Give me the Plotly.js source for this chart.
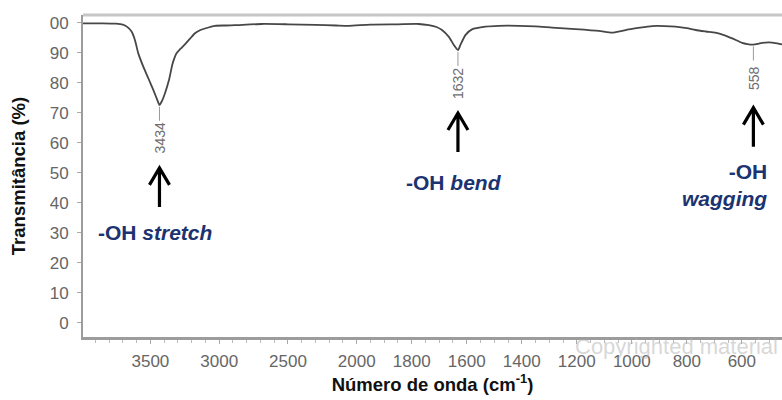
<!DOCTYPE html>
<html>
<head>
<meta charset="utf-8">
<script src="https://cdn.plot.ly/plotly-3.0.1.min.js"></script>
<style>
  html, body { margin: 0; padding: 0; background: #fff; overflow: hidden; }
  #chart { width: 782px; height: 400px; }
</style>
</head>
<body>
<div id="chart"></div>
<script>
// FTIR spectrum: wavenumber (cm-1) and transmittance (%)
const wavenumber = [
  4000, 3850, 3750, 3700, 3685, 3660, 3636, 3612, 3588, 3551, 3515, 3479, 3450, 3434,
  3415, 3394, 3365, 3341, 3325, 3309, 3290, 3270, 3249, 3210, 3176, 3140, 3103, 3031, 2950,
  2885, 2691, 2500, 2300, 2150, 2058, 1950, 1850, 1775, 1738, 1710, 1690, 1665, 1647,
  1632, 1623, 1605, 1581, 1532, 1484, 1411, 1350, 1290, 1205, 1120, 1072, 1040, 1011,
  970, 926, 880, 841, 800, 768, 730, 696, 665, 635, 599, 580, 558, 540, 526, 490, 470,
  459, 440
];
const transmittance = [
  99.8, 99.8, 99.7, 99.4, 99.1, 98.3, 97.0, 94.2, 89.8, 85.3, 81.5, 77.6, 74.3, 72.6,
  74.0, 76.5, 80.9, 86.0, 88.3, 89.9, 90.9, 91.8, 92.8, 94.8, 96.5, 97.5, 98.1, 99.0, 99.1,
  99.2, 99.6, 99.5, 99.3, 99.1, 99.0, 99.4, 99.5, 99.6, 99.2, 98.6, 97.6, 95.3, 92.6,
  90.9, 92.6, 95.9, 97.8, 98.7, 99.0, 99.0, 98.8, 98.4, 97.9, 97.3, 96.7, 97.2, 97.8,
  98.4, 98.9, 98.9, 98.7, 98.2, 97.6, 97.1, 96.7, 95.9, 94.8, 93.3, 92.9, 92.7, 93.0,
  93.3, 93.4, 93.1, 92.9, 92.6
];

// Assigned bands
const peakPositions = [3434, 1632, 558];
const peakMinima = [72.6, 90.9, 92.7];
const peakBands = ['-OH <i>stretch</i>', '-OH <i>bend</i>', '-OH<br><i>wagging</i>'];

// Axis ticks
const xTickValues = [3500, 3000, 2500, 2000, 1800, 1600, 1400, 1200, 1000, 800, 600];
const yTickValues = [0, 10, 20, 30, 40, 50, 60, 70, 80, 90, 100];
const yTickLabels = ['0', '10', '20', '30', '40', '50', '60', '70', '80', '90', '00'];

// Instrument scale: 4000-2000 cm-1 compressed, below 2000 cm-1 expanded 2x
function axisPos(w) {
  return w >= 2000 ? 4000 - w : 2000 + (2000 - w) * 2;
}

const FONT = 'Liberation Sans, Arial, sans-serif';
const NAVY = '#1b3370';

const trace = {
  x: wavenumber.map(axisPos),
  y: transmittance,
  type: 'scatter',
  mode: 'lines',
  line: { color: '#474747', width: 1.8, shape: 'spline', smoothing: 0.6 },
  hoverinfo: 'skip'
};

const shapes = [
  // top frame line
  { type: 'line', xref: 'paper', yref: 'paper', x0: 0, x1: 1, y0: 1, y1: 1,
    line: { color: '#c6c6c6', width: 3 } }
];
const annotations = [];

// band label placement (transmittance units)
const bandLabelY = [30.2, 46.9, 45.9];
const bandShift = [-4, -4, 16];
const bandAnchor = ['center', 'center', 'right'];

peakPositions.forEach((p, i) => {
  const xp = axisPos(p);
  const m = peakMinima[i];
  // leader tick under the minimum
  shapes.push({ type: 'line', xref: 'x', yref: 'y', x0: xp, x1: xp, y0: m - 0.6, y1: m - 5.3,
    line: { color: '#9a9a9a', width: 1 } });
  // upward arrow pointing at the band
  shapes.push({ type: 'path', xref: 'x', yref: 'y', xsizemode: 'pixel', ysizemode: 'pixel',
    xanchor: xp, yanchor: m - 21,
    path: 'M0,0 L0,-39 M-10,-17 L0,0 L10,-17',
    line: { color: '#000', width: 3.2 } });
  // wavenumber of the minimum
  annotations.push({ x: xp, y: m - 11, xref: 'x', yref: 'y', text: String(p),
    textangle: -90, showarrow: false, font: { family: FONT, size: 14, color: '#6e6e6e' } });
  // band assignment
  annotations.push({ x: xp, y: bandLabelY[i], xref: 'x', yref: 'y', text: '<b>' + peakBands[i] + '</b>',
    xanchor: bandAnchor[i], align: bandAnchor[i] === 'right' ? 'right' : 'center', xshift: bandShift[i],
    showarrow: false, font: { family: FONT, size: 21, color: NAVY } });
});

// faint page watermark along the lower right
annotations.push({ xref: 'paper', yref: 'paper', x: 1, y: -0.03, xanchor: 'right', yanchor: 'middle',
  xshift: -2, text: 'Copyrighted material', showarrow: false,
  font: { family: FONT, size: 22, color: 'rgba(175,175,175,0.5)' } });

const layout = {
  width: 782,
  height: 400,
  margin: { l: 83, r: 0, t: 15, b: 63 },
  paper_bgcolor: '#fff',
  plot_bgcolor: '#fff',
  showlegend: false,
  xaxis: {
    range: [axisPos(3990), axisPos(454)],
    tickmode: 'array',
    tickvals: xTickValues.map(axisPos),
    ticktext: xTickValues.map(String),
    ticks: 'outside', ticklen: 4, tickcolor: '#aaa', tickwidth: 1,
    minor: { tickmode: 'linear', tick0: 0, dtick: 100, ticks: 'outside', ticklen: 3, tickcolor: '#bbb' },
    ticklabelstandoff: 3,
    tickfont: { family: FONT, size: 17, color: '#666' },
    showgrid: false, zeroline: false,
    showline: true, linecolor: '#9c9c9c', linewidth: 2.5,
    automargin: false,
    title: { text: '<b>Número de onda (cm<sup>-1</sup>)</b>', standoff: 7,
             font: { family: FONT, size: 18.5, color: '#111' } }
  },
  yaxis: {
    range: [-4.8, 102.6],
    tickmode: 'array',
    tickvals: yTickValues,
    ticktext: yTickLabels,
    ticks: 'outside', ticklen: 4, tickcolor: '#aaa', tickwidth: 1,
    ticklabelstandoff: 5,
    tickfont: { family: FONT, size: 17, color: '#666' },
    showgrid: false, zeroline: false,
    showline: true, linecolor: '#9c9c9c', linewidth: 2,
    automargin: false,
    title: { text: '<b>Transmitância (%)</b>', standoff: 19,
             font: { family: FONT, size: 18.5, color: '#111' } }
  },
  shapes: shapes,
  annotations: annotations
};

Plotly.newPlot('chart', [trace], layout, { displayModeBar: false, staticPlot: true });
</script>
</body>
</html>
